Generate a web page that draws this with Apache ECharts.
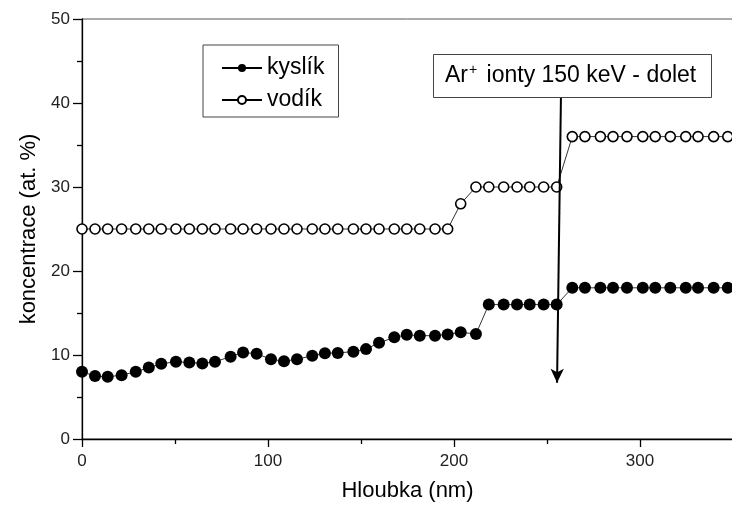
<!DOCTYPE html>
<html>
<head>
<meta charset="utf-8">
<script src="https://cdn.jsdelivr.net/npm/echarts@6/dist/echarts.min.js"></script>
<style>
html,body{margin:0;padding:0;background:#fff;}
#chart{width:732px;height:506px;}
</style>
</head>
<body>
<div id="chart"></div>
<script>
// Depth (nm)
var depth = [0, 7.0, 13.8, 21.3, 28.9, 35.9, 42.6, 50.5, 57.7, 64.7,
  71.5, 79.9, 86.6, 93.9, 101.6, 108.6, 115.6, 123.8, 130.6, 137.5,
  145.9, 152.7, 159.7, 167.9, 174.6, 181.6, 189.8, 196.6, 203.6, 211.8,
  218.7, 226.7, 233.9, 240.7, 248.2, 255.2, 263.6, 270.4, 278.7, 285.5,
  293.0, 301.5, 308.2, 316.3, 324.6, 331.2, 339.6, 347.2];
// Oxygen (at. %)
var kyslik = [8.0, 7.5, 7.4, 7.6, 8.0, 8.5, 8.95, 9.2, 9.1, 9.0,
  9.2, 9.8, 10.3, 10.15, 9.5, 9.25, 9.5, 9.9, 10.2, 10.25,
  10.4, 10.7, 11.45, 12.1, 12.4, 12.3, 12.3, 12.45, 12.7, 12.5,
  16, 16, 16, 16, 16, 16, 18, 18, 18, 18,
  18, 18, 18, 18, 18, 18, 18, 18];
// Hydrogen (at. %)
var vodik = [25, 25, 25, 25, 25, 25, 25, 25, 25, 25,
  25, 25, 25, 25, 25, 25, 25, 25, 25, 25,
  25, 25, 25, 25, 25, 25, 25, 25, 28, 30,
  30, 30, 30, 30, 30, 30, 36, 36, 36, 36,
  36, 36, 36, 36, 36, 36, 36, 36];
var xTicks = [0, 100, 200, 300];
var seriesNames = ['kyslík', 'vodík'];
var annotationText = 'Ar{sup|+} ionty 150 keV - dolet';
// arrow (range of Ar+ ions) in data units
var arrowFrom = [257.5, 40.8];
var arrowTo = [255.4, 6.7];

function pairs(xs, ys) { return xs.map(function (x, i) { return [x, ys[i]]; }); }

var FONT = 'Liberation Sans, Arial, sans-serif';
var chart = echarts.init(document.getElementById('chart'), null, {renderer: 'canvas'});
chart.setOption({
  animation: false,
  backgroundColor: '#fff',
  grid: {left: 82, top: 19, width: 651, height: 420, show: true, borderColor: '#555', borderWidth: 1,
    containLabel: false, outerBoundsMode: 'none'},
  legend: {
    orient: 'vertical', left: 203, top: 45,
    data: seriesNames,
    borderColor: '#444', borderWidth: 1,
    padding: [11, 14, 5, 18],
    itemGap: 8, itemWidth: 40, itemHeight: 10,
    textStyle: {fontFamily: FONT, fontSize: 23, color: '#000', lineHeight: 24}
  },
  xAxis: {
    type: 'value', min: 0, max: 350, interval: 100,
    name: 'Hloubka (nm)', nameLocation: 'middle', nameGap: 41,
    nameTextStyle: {fontFamily: FONT, fontSize: 22, color: '#000'},
    axisLine: {show: true, onZero: false, lineStyle: {color: '#000', width: 1.3}},
    axisTick: {show: true, inside: false, length: 8, lineStyle: {color: '#000', width: 1.3}},
    minorTick: {show: true, splitNumber: 2, length: 5, lineStyle: {color: '#000', width: 1.3}},
    axisLabel: {show: true, margin: 14, fontFamily: FONT, fontSize: 17, color: '#222',
      formatter: function (v) { return xTicks.indexOf(v) >= 0 ? String(v) : ''; }},
    splitLine: {show: false}
  },
  yAxis: {
    type: 'value', min: 0, max: 50, interval: 10,
    name: 'koncentrace (at. %)', nameLocation: 'middle', nameGap: 42,
    nameTextStyle: {fontFamily: FONT, fontSize: 22, color: '#000'},
    axisLine: {show: true, onZero: false, lineStyle: {color: '#000', width: 1.3}},
    axisTick: {show: true, inside: false, length: 9, lineStyle: {color: '#000', width: 1.3}},
    minorTick: {show: true, splitNumber: 2, length: 5, lineStyle: {color: '#000', width: 1.3}},
    axisLabel: {show: true, margin: 12, fontFamily: FONT, fontSize: 17, color: '#222'},
    splitLine: {show: false}
  },
  series: [
    {
      name: seriesNames[0], type: 'line', data: pairs(depth, kyslik),
      symbol: 'circle', symbolSize: 12, showAllSymbol: true,
      lineStyle: {color: '#000', width: 0.8},
      itemStyle: {color: '#000', borderColor: '#000', borderWidth: 0},
      z: 3,
      markLine: {
        silent: true, symbol: ['none', 'arrow'], symbolSize: [10, 14],
        label: {show: false},
        lineStyle: {color: '#000', width: 2, type: 'solid'},
        data: [[{coord: arrowFrom}, {coord: arrowTo}]]
      }
    },
    {
      name: seriesNames[1], type: 'line', data: pairs(depth, vodik),
      symbol: 'circle', symbolSize: 10, showAllSymbol: true,
      lineStyle: {color: '#000', width: 0.8},
      itemStyle: {color: '#fff', borderColor: '#000', borderWidth: 1.6},
      z: 3
    }
  ],
  graphic: [
    {
      type: 'rect', left: 433, top: 54, z: 10,
      shape: {width: 278, height: 43},
      style: {fill: '#fff', stroke: '#444', lineWidth: 1}
    },
    {
      type: 'text', left: 445, top: 63, z: 11,
      style: {
        text: annotationText, fontFamily: FONT, fontSize: 23, fill: '#000',
        rich: {sup: {fontSize: 14, verticalAlign: 'top', padding: [0, 3, 12, 1], fontFamily: FONT}}
      }
    }
  ]
});
</script>
</body>
</html>
